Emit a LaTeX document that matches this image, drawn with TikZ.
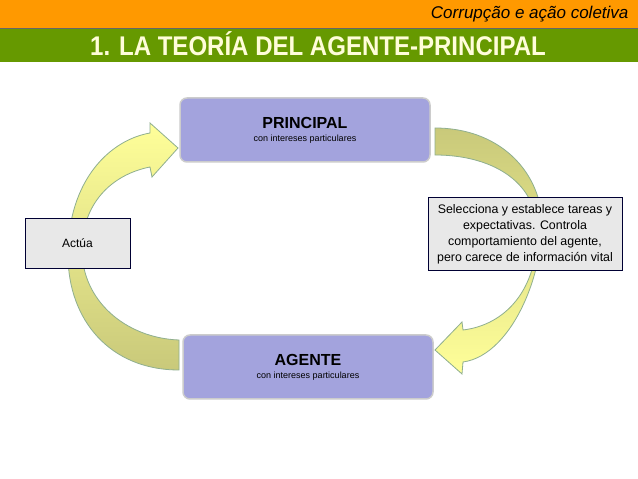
\documentclass[tikz,border=0pt]{standalone}
\usepackage{fontspec}
\setmainfont{Liberation Sans}
\definecolor{mainfill}{HTML}{A3A3DD}
\definecolor{olive1}{HTML}{C9C97A}
\definecolor{yellow1}{HTML}{FFFF99}
\definecolor{arrowline}{HTML}{8FAF8F}
\definecolor{HTMLgreen}{HTML}{669900}
\definecolor{topor}{HTML}{FF9900}
\begin{document}
\begin{tikzpicture}[x=1pt,y=1pt,
  mainbox/.style={draw=black!20,line width=1.5pt,fill=mainfill,rounded corners=7pt,minimum width=250pt,minimum height=64pt,align=center},
  sidebox/.style={draw=black!80!blue,line width=0.6pt,fill=black!9,align=center},
  band/.style={draw=arrowline,line width=0.8pt}]
\useasboundingbox (0,0) rectangle (638,479);
\fill[white] (0,0) rectangle (638,479);
\fill[topor] (0,479) rectangle (638,451);
\fill[HTMLgreen] (0,451) rectangle (638,417);
\draw[black!60,line width=0.8pt] (0,451) -- (638,451);
\node[anchor=east,font=\fontsize{17}{19}\selectfont\itshape] (sub) at (632,465) {Corrupção e ação coletiva};
\node[font=\fontsize{27}{30}\selectfont\bfseries,text=yellow!15] (title) at (318,435) {\scalebox{0.89}[1]{1. LA TEORÍA DEL AGENTE-PRINCIPAL}};
\begin{scope}[yshift=479pt,yscale=-1]
% right arrow
\path[band,top color=olive1,bottom color=yellow1] (435,128) .. controls (490,128) and (530,160) .. (540,205)
  .. controls (550,260) and (515,355) .. (463,362) -- (462,374) -- (435,350) -- (462,322) -- (463,330)
  .. controls (505,325) and (538,290) .. (537,230)
  .. controls (536,180) and (490,155) .. (435,155) -- cycle;
% left arrow
\path[band,top color=yellow1,bottom color=olive1] (179,370) .. controls (110,370) and (68,320) .. (68,255)
  .. controls (68,180) and (110,140) .. (150,133) -- (150,123) -- (178,148) -- (152,177) -- (150,167)
  .. controls (110,175) and (82,205) .. (82,250)
  .. controls (82,300) and (125,338) .. (179,340) -- cycle;
\end{scope}
\node[mainbox] (p) at (305,349) {\fontsize{16}{18}\selectfont\bfseries PRINCIPAL\\[1pt]\fontsize{9}{11}\selectfont con intereses particulares};
\node[mainbox] (a) at (308,112) {\fontsize{16}{18}\selectfont\bfseries AGENTE\\[1pt]\fontsize{9}{11}\selectfont con intereses particulares};
\node[sidebox,minimum width=105pt,minimum height=50pt,font=\fontsize{12}{14}\selectfont] (act) at (77.5,236) {Actúa};
\node[sidebox,minimum width=194pt,minimum height=73pt,inner sep=1pt,font=\fontsize{12.4}{16}\selectfont] (sel) at (525,245) {Selecciona y establece tareas y\\expectativas. Controla\\comportamiento del agente,\\pero carece de información vital};
\end{tikzpicture}
\end{document}
